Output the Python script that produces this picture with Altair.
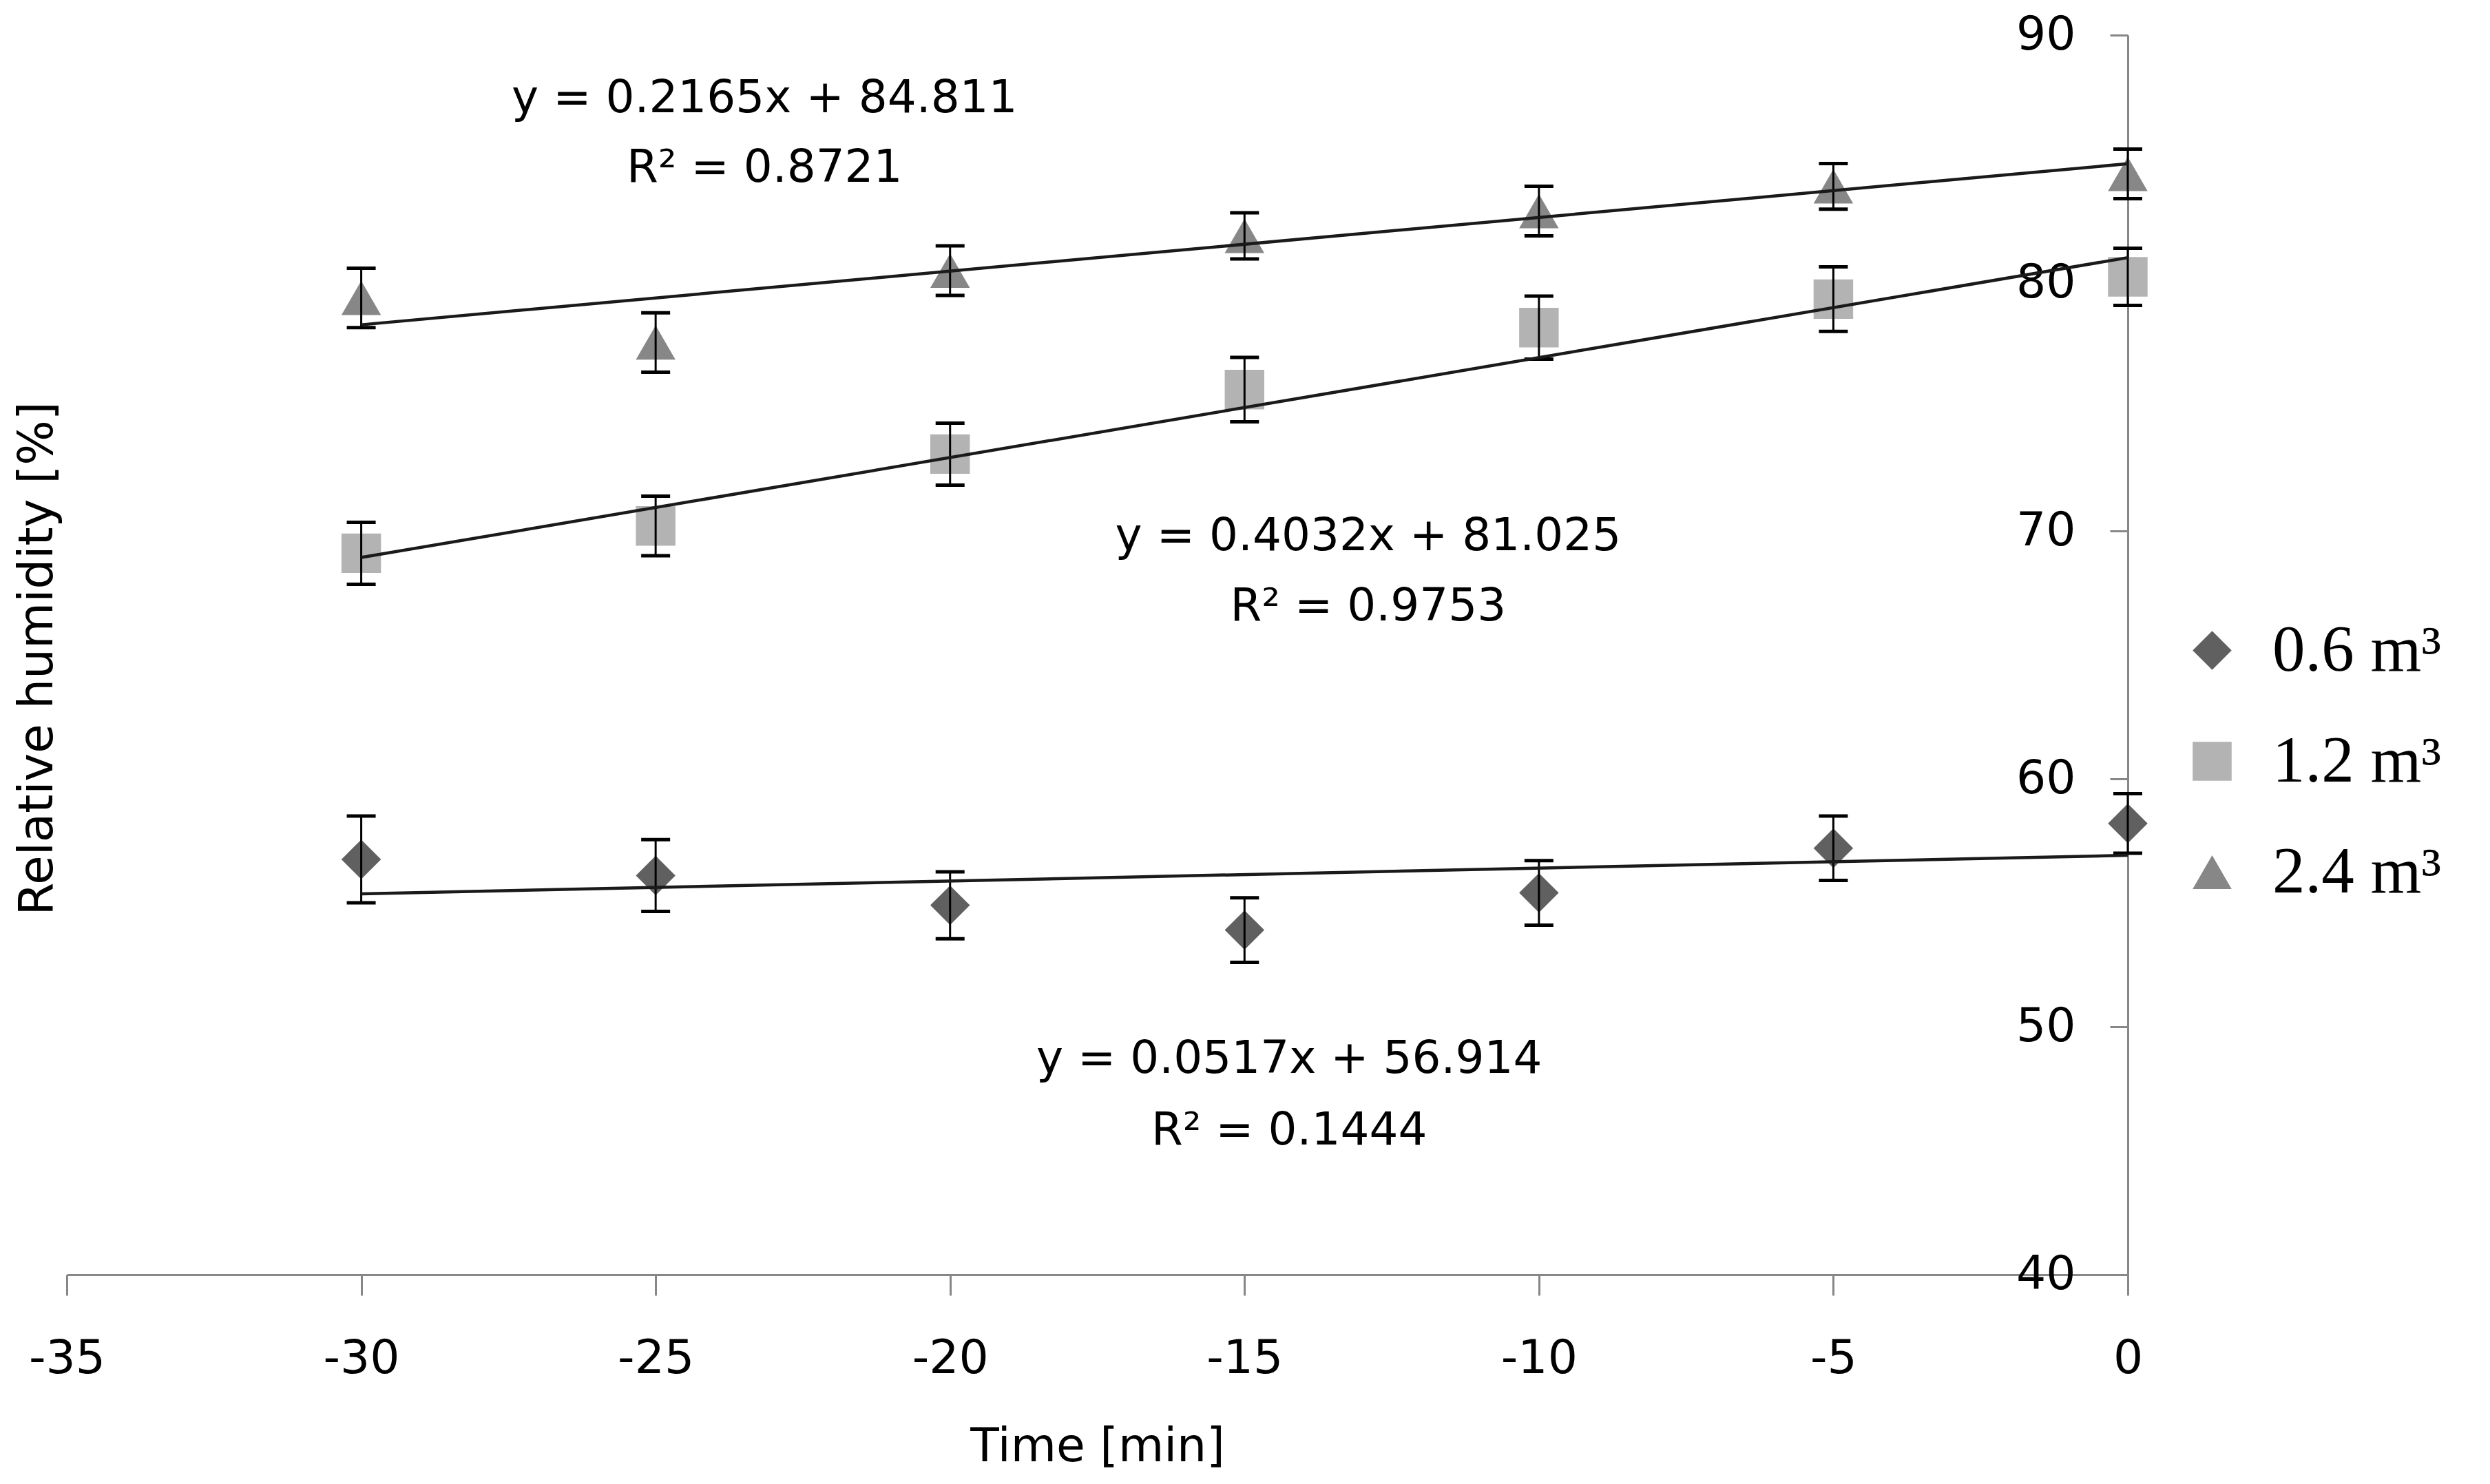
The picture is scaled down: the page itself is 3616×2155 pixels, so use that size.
import altair as alt
import pandas as pd

# ---- data ----
time = [-30, -25, -20, -15, -10, -5, 0]
series_names = ["0.6 m³", "1.2 m³", "2.4 m³"]

rh_06 = [56.75, 56.1, 54.9, 53.9, 55.4, 57.2, 58.2]
err_06 = [1.75, 1.45, 1.35, 1.3, 1.3, 1.3, 1.2]
rh_12 = [69.1, 70.2, 73.1, 75.7, 78.2, 79.35, 80.25]
err_12 = [1.25, 1.2, 1.25, 1.3, 1.27, 1.3, 1.15]
rh_24 = [79.4, 77.6, 80.5, 81.9, 82.9, 83.9, 84.4]
err_24 = [1.2, 1.2, 1.0, 0.93, 1.0, 0.92, 1.0]

# trend-line equations shown on the chart
slopes = [0.0517, 0.4032, 0.2165]
intercepts = [56.914, 81.025, 84.811]
trend_x = [-30, 0]

eq_text = ["y = 0.0517x + 56.914", "y = 0.4032x + 81.025", "y = 0.2165x + 84.811"]
r2_text = ["R² = 0.1444", "R² = 0.9753", "R² = 0.8721"]
# annotation anchors in data units (time, humidity)
eq_x = [-14.24, -12.9, -23.15]
eq_y = [48.69, 69.78, 87.44]
r2_y = [45.8, 66.94, 84.64]

x_ticks = [-35, -30, -25, -20, -15, -10, -5, 0]
y_ticks = [40, 50, 60, 70, 80, 90]

colors = ["#606060", "#b3b3b3", "#878787"]
shapes = ["diamond", "square", "triangle-up"]

# ---- tables ----
rows = []
for name, vals, errs in zip(series_names, [rh_06, rh_12, rh_24], [err_06, err_12, err_24]):
    for t, v, e in zip(time, vals, errs):
        rows.append({"series": name, "time": t, "rh": v, "lo": v - e, "hi": v + e})
pts = pd.DataFrame(rows)

trows = []
for name, s, b in zip(series_names, slopes, intercepts):
    for t in trend_x:
        trows.append({"series": name, "time": t, "rh": s * t + b})
trend = pd.DataFrame(trows)

labels = []
for ex, ey, ry, et, rt in zip(eq_x, eq_y, r2_y, eq_text, r2_text):
    labels.append({"time": ex, "rh": ey, "txt": et})
    labels.append({"time": ex, "rh": ry, "txt": rt})
lab = pd.DataFrame(labels)

W, H = 2993, 1800
AXIS_GRAY = "#878787"

x_scale = alt.Scale(domain=[-35, 0], nice=False, zero=False)
y_scale = alt.Scale(domain=[40, 90], nice=False, zero=False)

x_axis = alt.Axis(
    values=x_ticks, grid=False, tickSize=30, tickColor=AXIS_GRAY, tickWidth=3,
    domainColor=AXIS_GRAY, domainWidth=3, labelFontSize=68, labelColor="#000000",
    labelPadding=58, labelFlush=False, labelOverlap=False, labelLimit=500,
    labelExpr="'' + datum.value",
    title="Time [min]", titleFontSize=68, titleFontWeight="normal", titleColor="#000000",
    titleBaseline="alphabetic", titleY=270,
)
y_axis = alt.Axis(
    orient="left", offset=-W, values=y_ticks, grid=False, tickSize=26, tickColor=AXIS_GRAY,
    tickWidth=3, domainColor=AXIS_GRAY, domainWidth=3, labelFontSize=68, labelColor="#000000",
    labelPadding=50, labelOverlap=False, labelLimit=500, labelExpr="'' + datum.value",
    title="Relative humidity [%]", titleFontSize=69, titleFontWeight="normal", titleColor="#000000",
    titleX=-W - 43, titleY=905, titleAngle=270, titleAlign="center", titleBaseline="middle",
)

x_enc = alt.X("time:Q", scale=x_scale, axis=x_axis)
y_enc = alt.Y("rh:Q", scale=y_scale, axis=y_axis)

legend = alt.Legend(
    title=None, orient="none", legendX=3068, legendY=846, symbolSize=3200,
    labelFont="Liberation Serif", labelFontSize=95, labelColor="#000000",
    rowPadding=65, labelOffset=40, padding=0, labelLimit=0, symbolStrokeWidth=0,
)

points = alt.Chart(pts).mark_point(filled=True, opacity=1, size=3300, strokeWidth=0).encode(
    x=x_enc, y=y_enc,
    color=alt.Color("series:N", scale=alt.Scale(domain=series_names, range=colors), legend=legend),
    shape=alt.Shape("series:N", scale=alt.Scale(domain=series_names, range=shapes), legend=legend),
)

bars = alt.Chart(pts).mark_rule(color="#000000", strokeWidth=3).encode(
    x=alt.X("time:Q", scale=x_scale), y=alt.Y("lo:Q", scale=y_scale), y2="hi:Q"
)
cap_lo = alt.Chart(pts).mark_tick(color="#000000", orient="horizontal", size=42, thickness=5, opacity=1).encode(
    x=alt.X("time:Q", scale=x_scale), y=alt.Y("lo:Q", scale=y_scale)
)
cap_hi = alt.Chart(pts).mark_tick(color="#000000", orient="horizontal", size=42, thickness=5, opacity=1).encode(
    x=alt.X("time:Q", scale=x_scale), y=alt.Y("hi:Q", scale=y_scale)
)

lines = alt.Chart(trend).mark_line(color="#1a1a1a", strokeWidth=4.5).encode(
    x=alt.X("time:Q", scale=x_scale), y=alt.Y("rh:Q", scale=y_scale), detail="series:N"
)

texts = alt.Chart(lab).mark_text(
    font="DejaVu Sans", fontSize=66, color="#000000", align="center", baseline="middle"
).encode(
    x=alt.X("time:Q", scale=x_scale), y=alt.Y("rh:Q", scale=y_scale), text="txt:N"
)

chart = alt.layer(points, bars, cap_lo, cap_hi, lines, texts).properties(
    width=W, height=H,
    autosize=alt.AutoSizeParams(type="none"),
    padding={"left": 89, "top": 43, "right": 518, "bottom": 296},
).configure(font="DejaVu Sans").configure_view(stroke=None)

chart.save("out.html", embed_options={"renderer": "svg", "actions": False})
